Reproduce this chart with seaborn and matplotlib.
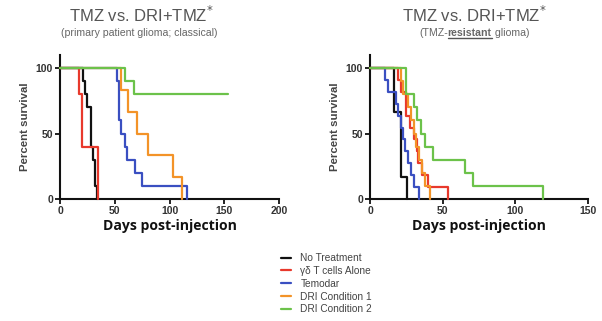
import numpy as np
import pandas as pd
import matplotlib
matplotlib.use("Agg")
import matplotlib.pyplot as plt
from matplotlib.lines import Line2D
import seaborn as sns

# ---- survival data (days, percent surviving after each event) ----
groups = ["No Treatment", "γδ T cells Alone", "Temodar", "DRI Condition 1", "DRI Condition 2"]
colors = ["#111111", "#e8392c", "#3a4fc1", "#f39328", "#6cc24a"]

# primary patient glioma (classical)
nt_days_a = [0, 21, 23, 25, 28, 30, 32, 34]
nt_surv_a = [100, 90, 80, 70, 40, 30, 10, 0]
gd_days_a = [0, 17.5, 20.5, 35]
gd_surv_a = [100, 80, 40, 0]
tm_days_a = [0, 52, 54, 56, 59.5, 61.5, 68.5, 74.5, 116]
tm_surv_a = [100, 90, 60, 50, 40, 30, 20, 10, 0]
d1_days_a = [0, 56, 62.5, 70, 80.5, 103, 111]
d1_surv_a = [100, 83.3, 66.7, 50, 33.3, 16.7, 0]
d2_days_a = [0, 59.5, 67.5, 153]
d2_surv_a = [100, 90, 80, 80]

# TMZ-resistant glioma
nt_days_b = [0, 16.7, 21.5, 25.5]
nt_surv_b = [100, 66.7, 16.7, 0]
gd_days_b = [0, 19, 21, 24.5, 25, 27.5, 30, 32, 33, 36, 40, 53.5]
gd_surv_b = [100, 90.9, 81.8, 72.7, 63.6, 54.5, 45.5, 36.4, 27.3, 18.2, 9.1, 0]
tm_days_b = [0, 10.5, 12.5, 18, 19.5, 21, 22.5, 24, 26, 28, 30.5, 33.5]
tm_surv_b = [100, 90.9, 81.8, 72.7, 63.6, 54.5, 45.5, 36.4, 27.3, 18.2, 9.1, 0]
d1_days_b = [0, 21.5, 23, 26, 28, 30, 31.5, 33.5, 36, 38, 41]
d1_surv_b = [100, 90, 80, 70, 60, 50, 40, 30, 20, 10, 0]
d2_days_b = [0, 25, 30, 32.5, 35, 38, 43.5, 65.5, 71, 119]
d2_surv_b = [100, 80, 70, 60, 50, 40, 30, 20, 10, 0]

x_ticks_a = [0, 50, 100, 150, 200]
x_ticks_b = [0, 50, 100, 150]
y_ticks = [0, 50, 100]


def long_table(series):
    rows = []
    for name, days, surv in series:
        for d, s in zip(days, surv):
            rows.append({"group": name, "day": d, "survival": s})
    return pd.DataFrame(rows)


df_a = long_table([
    (groups[0], nt_days_a, nt_surv_a), (groups[1], gd_days_a, gd_surv_a),
    (groups[2], tm_days_a, tm_surv_a), (groups[3], d1_days_a, d1_surv_a),
    (groups[4], d2_days_a, d2_surv_a)])
df_b = long_table([
    (groups[0], nt_days_b, nt_surv_b), (groups[1], gd_days_b, gd_surv_b),
    (groups[2], tm_days_b, tm_surv_b), (groups[3], d1_days_b, d1_surv_b),
    (groups[4], d2_days_b, d2_surv_b)])

sns.set_style("ticks")
plt.rcParams["font.family"] = ["Liberation Sans", "DejaVu Sans"]

palette = dict(zip(groups, colors))
fig = plt.figure(figsize=(6.02, 3.21), dpi=100)

ax_a = fig.add_axes([60 / 602, 1 - 199 / 321, 219 / 602, 144 / 321])
ax_b = fig.add_axes([370 / 602, 1 - 199 / 321, 218 / 602, 144 / 321])

for ax, df, xmax, xt in [(ax_a, df_a, 200, x_ticks_a), (ax_b, df_b, 150, x_ticks_b)]:
    sns.lineplot(data=df, x="day", y="survival", hue="group", hue_order=groups,
                 palette=palette, estimator=None, sort=False,
                 drawstyle="steps-post", linewidth=1.6, ax=ax, legend=True,
                 clip_on=False, zorder=3)
    ax.set_xlim(0, xmax)
    ax.set_ylim(0, 110)
    ax.set_xticks(xt)
    ax.set_yticks(y_ticks)
    for s in ["top", "right"]:
        ax.spines[s].set_visible(False)
    for s in ["left", "bottom"]:
        ax.spines[s].set_linewidth(1.5)
        ax.spines[s].set_color("#111111")
        ax.spines[s].set_zorder(2)
    ax.tick_params(axis="both", direction="out", length=3.5, width=1.3,
                   color="#111111", labelsize=7.5, labelcolor="#333333", pad=1.5)
    for lab in ax.get_xticklabels() + ax.get_yticklabels():
        lab.set_fontweight("bold")
    ax.set_xlabel("Days post-injection", fontsize=10.1, fontweight="bold",
                  family=["Open Sans", "DejaVu Sans"], color="#111111", labelpad=2)
    ax.set_ylabel("Percent survival", fontsize=8.2, fontweight="bold",
                  color="#444444", labelpad=4)
    ax.patch.set_alpha(0)

handles, labels = ax_a.get_legend_handles_labels()
ax_a.get_legend().remove()
ax_b.get_legend().remove()
leg = fig.legend(handles, labels, loc="upper left", bbox_to_anchor=(276 / 602, 1 - 248 / 321),
                 frameon=False, fontsize=7.3, handlelength=1.0, handletextpad=0.9,
                 labelspacing=0.28, borderpad=0)
for t in leg.get_texts():
    t.set_color("#444444")
for h in leg.get_lines():
    h.set_linewidth(1.6)

# titles
title_kw = dict(ha="center", va="center", color="#555555", fontsize=12)
for cx in (141, 474):
    fig.text(cx / 602, 1 - 15 / 321, "TMZ vs. DRI+TMZ$^{*}$", **title_kw)
fig.text(139 / 602, 1 - 33 / 321, "(primary patient glioma; classical)",
         ha="center", va="center", color="#666666", fontsize=7.6)

# subtitle with bold, underlined "resistant"
fig.canvas.draw()
renderer = fig.canvas.get_renderer()
parts = [("(TMZ-", "normal"), ("resistant", "bold"), (" glioma)", "normal")]
pieces = []
for txt, wt in parts:
    t = fig.text(0, 1 - 33 / 321, txt, ha="left", va="center", color="#666666",
                 fontsize=7.6, fontweight=wt)
    pieces.append(t)
widths = [p.get_window_extent(renderer).width for p in pieces]
total = sum(widths)
x0 = 474 - total / 2
for p, w in zip(pieces, widths):
    p.set_x(x0 / 602)
    x0 += w
bb = pieces[1].get_window_extent(renderer)
y_line = bb.y0 - 0.3
fig.add_artist(Line2D([bb.x0 / 602, bb.x1 / 602], [y_line / 321, y_line / 321],
                      transform=fig.transFigure, color="#555555", linewidth=1.0))

fig.savefig("out.png", dpi=100)
